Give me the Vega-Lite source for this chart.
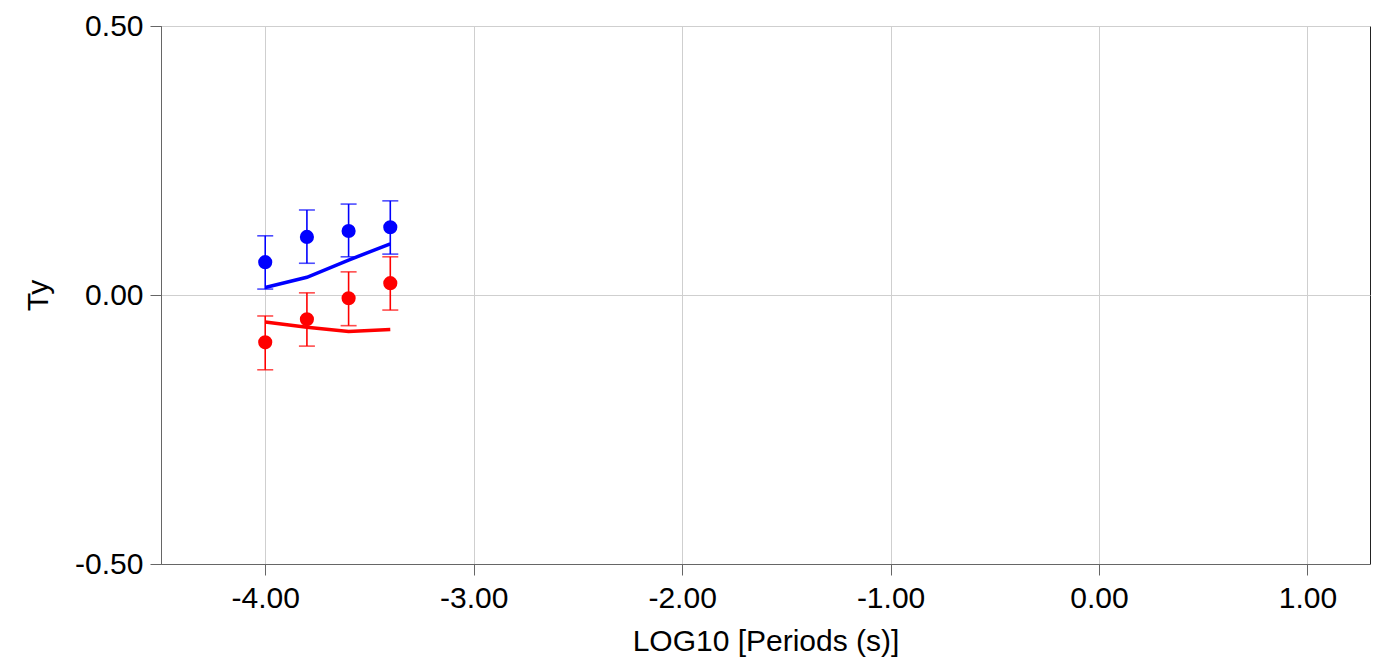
{
  "$schema": "https://vega.github.io/schema/vega-lite/v6.json",
  "width": 1209,
  "height": 538,
  "autosize": {"type": "none"},
  "padding": {"left": 161, "top": 26, "right": 12, "bottom": 99},
  "background": "white",
  "config": {
    "font": "Liberation Sans",
    "view": {"stroke": "#222", "strokeWidth": 1},
    "axis": {
      "labelFont": "Liberation Sans",
      "titleFont": "Liberation Sans",
      "labelFontSize": 30,
      "titleFontSize": 30,
      "labelColor": "#000",
      "titleColor": "#000",
      "titleFontWeight": "normal",
      "tickSize": 11,
      "tickColor": "#666",
      "domainColor": "#666",
      "gridColor": "#cfcfcf",
      "gridWidth": 1
    }
  },
  "data": {
    "values": [
      {"x": -4.0, "s": "blue", "y": 0.061, "lo": 0.011, "hi": 0.110, "fit": 0.014},
      {"x": -3.8, "s": "blue", "y": 0.108, "lo": 0.059, "hi": 0.158, "fit": 0.033},
      {"x": -3.6, "s": "blue", "y": 0.119, "lo": 0.071, "hi": 0.169, "fit": 0.065},
      {"x": -3.4, "s": "blue", "y": 0.126, "lo": 0.076, "hi": 0.175, "fit": 0.095},
      {"x": -4.0, "s": "red", "y": -0.088, "lo": -0.139, "hi": -0.039, "fit": -0.050},
      {"x": -3.8, "s": "red", "y": -0.045, "lo": -0.095, "hi": 0.004, "fit": -0.060},
      {"x": -3.6, "s": "red", "y": -0.006, "lo": -0.057, "hi": 0.043, "fit": -0.068},
      {"x": -3.4, "s": "red", "y": 0.022, "lo": -0.028, "hi": 0.071, "fit": -0.064}
    ]
  },
  "encoding": {
    "x": {
      "field": "x",
      "type": "quantitative",
      "scale": {"domain": [-4.5, 1.3], "nice": false, "zero": false},
      "axis": {
        "title": "LOG10 [Periods (s)]",
        "values": [-4, -3, -2, -1, 0, 1],
        "format": ".2f",
        "labelExpr": "replace(datum.label, '−', '-')",
        "labelPadding": 8,
        "titleY": 86,
        "titleBaseline": "alphabetic",
        "grid": true
      }
    },
    "color": {
      "field": "s",
      "type": "nominal",
      "scale": {"domain": ["blue", "red"], "range": ["#0000ff", "#ff0000"]},
      "legend": null
    }
  },
  "layer": [
    {
      "mark": {"type": "line", "strokeWidth": 3.5},
      "encoding": {
        "y": {
          "field": "fit",
          "type": "quantitative",
          "scale": {"domain": [-0.5, 0.5], "nice": false},
          "axis": {
            "title": "Ty",
            "values": [-0.5, 0, 0.5],
            "format": ".2f",
            "labelExpr": "replace(datum.label, '−', '-')",
            "labelPadding": 7,
            "grid": true,
            "titleX": -114,
            "titleY": 269,
            "titleAlign": "center",
            "titleBaseline": "alphabetic",
            "titleAngle": -90
          }
        }
      }
    },
    {
      "mark": {"type": "rule", "strokeWidth": 1.6},
      "encoding": {
        "y": {"field": "lo", "type": "quantitative"},
        "y2": {"field": "hi"}
      }
    },
    {
      "mark": {"type": "tick", "orient": "horizontal", "size": 16, "thickness": 1.6},
      "encoding": {"y": {"field": "lo", "type": "quantitative"}}
    },
    {
      "mark": {"type": "tick", "orient": "horizontal", "size": 16, "thickness": 1.6},
      "encoding": {"y": {"field": "hi", "type": "quantitative"}}
    },
    {
      "mark": {"type": "point", "filled": true, "opacity": 1, "size": 200},
      "encoding": {"y": {"field": "y", "type": "quantitative"}}
    }
  ]
}
